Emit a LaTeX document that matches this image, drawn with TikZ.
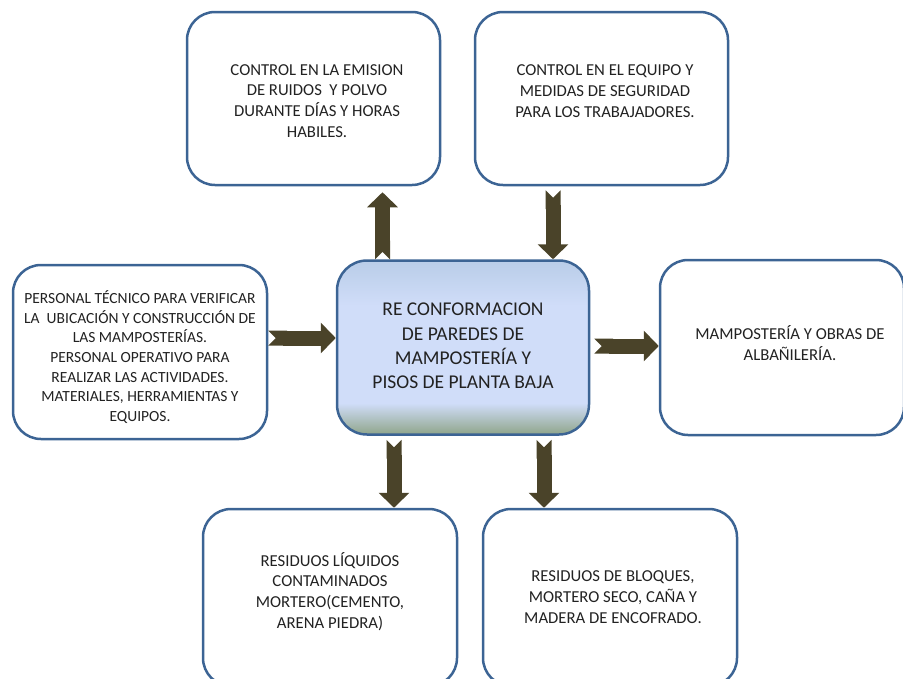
\documentclass[tikz,border=0pt]{standalone}
\usepackage{fontspec}
\setmainfont{Carlito}
\usetikzlibrary{arrows.meta,positioning}

\definecolor{boxline}{HTML}{3C6494}
\definecolor{arrowfill}{HTML}{4A4329}
\definecolor{hubT}{HTML}{B9CDE8}
\definecolor{hubM}{HTML}{D0DDF9}
\definecolor{hubB}{HTML}{8FA58A}
\definecolor{txtcol}{HTML}{222222}
\pgfdeclareverticalshading{hubfill}{100bp}{color(0bp)=(hubB); color(25bp)=(hubB); color(34bp)=(hubM); color(62bp)=(hubM); color(75bp)=(hubT); color(100bp)=(hubT)}

\tikzset{
  box/.style={draw=boxline, line width=2.5pt, rounded corners=28pt, fill=white, minimum width=253pt, minimum height=173pt, inner sep=0pt},
  hub/.style={draw=boxline, line width=2.5pt, rounded corners=30pt, shade, shading=hubfill, minimum width=252pt, minimum height=174pt, inner sep=0pt},
  txt/.style={align=center, text=txtcol, font=\fontsize{16.7}{20.8}\selectfont},
  blockarrow/.style={line width=15pt, color=arrowfill, {Triangle Cap[reversed]}-{Triangle[width=30pt,length=15pt]}},
}

\begin{document}
\begin{tikzpicture}[x=1pt,y=-1pt]
	\clip (0,0) rectangle (903,678);
	% boxes
	\node[hub] (ctr) at (463,347.5) {};
	\node[box] (ctrlA) at (313.5,98.5) {};
	\node[box] (ctrlB) at (601.5,98.5) {};
	\node[box, minimum height=174pt, minimum width=254pt] (inp) at (140,352) {};
	\node[box, minimum height=175pt, minimum width=244pt] (outp) at (782,347.5) {};
	\node[box, minimum height=177pt, minimum width=254pt] (resA) at (330,597.5) {};
	\node[box, minimum height=177pt, minimum width=254pt] (resB) at (610,597.5) {};
	% texts
	\node[txt, font=\fontsize{19.5}{24.4}\selectfont] (ctr-t) at (463,346) {RE CONFORMACION\\ DE PAREDES DE\\ MAMPOSTERÍA Y\\ PISOS DE PLANTA BAJA};
	\node[txt] (ctrlA-t) at (317,101) {CONTROL EN LA EMISION\\ DE RUIDOS~~Y POLVO\\ DURANTE DÍAS Y HORAS\\ HABILES.};
	\node[txt] (ctrlB-t) at (605,91) {CONTROL EN EL EQUIPO Y\\ MEDIDAS DE SEGURIDAD\\ PARA LOS TRABAJADORES.};
	\node[txt, font=\fontsize{15.5}{19.7}\selectfont] (inp-t) at (140,357) {PERSONAL TÉCNICO PARA VERIFICAR\\ LA~~UBICACIÓN Y CONSTRUCCIÓN DE\\ LAS MAMPOSTERÍAS.\\ PERSONAL OPERATIVO PARA\\ REALIZAR LAS ACTIVIDADES.\\ MATERIALES, HERRAMIENTAS Y\\ EQUIPOS.};
	\node[txt] (outp-t) at (790,343) {MAMPOSTERÍA Y OBRAS DE\\ ALBAÑILERÍA.};
	\node[txt] (resA-t) at (330,591.5) {RESIDUOS LÍQUIDOS\\ CONTAMINADOS\\ MORTERO(CEMENTO,\\ ARENA PIEDRA)};
	\node[txt] (resB-t) at (613,597) {RESIDUOS DE BLOQUES,\\ MORTERO SECO, CAÑA Y\\ MADERA DE ENCOFRADO.};
	% block arrows
	\draw[blockarrow, shorten >=6pt] ([xshift=-80.5pt]ctr.north) -- ([xshift=-80.5pt]ctr.north |- ctrlA.south);
	\draw[blockarrow, shorten <=4pt] ([xshift=90pt]ctr.north |- ctrlB.south) -- ([xshift=90pt]ctr.north);
	\draw[blockarrow] ([yshift=9.5pt]ctr.west -| inp.east) -- ([yshift=9.5pt]ctr.west);
	\draw[blockarrow, shorten <=4pt] ([yshift=1.5pt]ctr.east) -- ([yshift=1.5pt]ctr.east -| outp.west);
	\draw[blockarrow, shorten <=4pt] ([xshift=-69pt]ctr.south) -- ([xshift=-69pt]ctr.south |- resA.north);
	\draw[blockarrow, shorten <=4pt] ([xshift=81pt]ctr.south) -- ([xshift=81pt]ctr.south |- resB.north);
\end{tikzpicture}
\end{document}
